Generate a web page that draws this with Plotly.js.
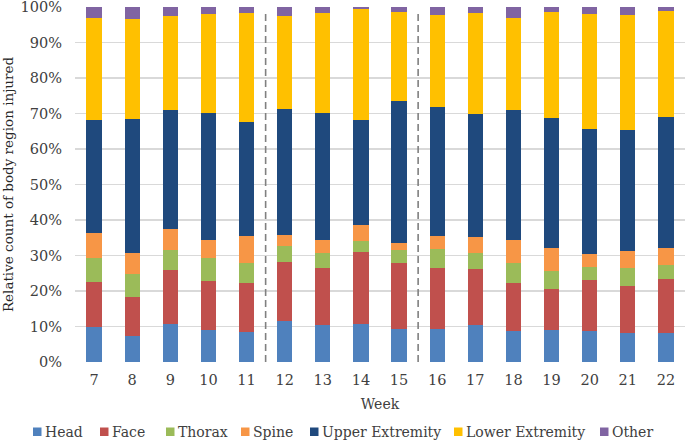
<!DOCTYPE html>
<html><head><meta charset="utf-8">
<script src="https://cdn.plot.ly/plotly-3.0.1.min.js"></script>
<style>html,body{margin:0;padding:0;background:#fff}#chart{width:685px;height:440px}</style>
</head><body><div id="chart"></div>
<script>
const weeks = [7,8,9,10,11,12,13,14,15,16,17,18,19,20,21,22];
const head   = [10.0, 7.4,10.7, 8.9, 8.4,11.5,10.5,10.8, 9.4, 9.4,10.5, 8.6, 8.9, 8.6, 8.3, 8.3];
const face   = [12.4,11.0,15.1,14.0,13.8,16.6,15.9,20.2,18.4,17.2,15.7,13.6,11.8,14.6,13.1,15.0];
const thorax = [ 6.8, 6.3, 5.7, 6.3, 5.7, 4.5, 4.3, 3.1, 3.8, 5.2, 4.5, 5.7, 4.8, 3.6, 5.1, 3.9];
const spine  = [ 7.2, 6.0, 6.1, 5.1, 7.7, 3.3, 3.6, 4.6, 2.0, 3.6, 4.4, 6.6, 6.6, 3.7, 4.8, 4.9];
const upper  = [31.9,37.8,33.3,35.9,32.0,35.4,35.9,29.4,39.9,36.3,34.7,36.6,36.6,35.2,34.0,36.8];
const lower  = [28.5,28.0,26.5,27.8,30.7,26.1,28.1,31.3,25.0,26.0,28.6,25.9,29.8,32.3,32.5,30.0];
const other  = [ 3.2, 3.5, 2.6, 2.0, 1.7, 2.6, 1.7, 0.6, 1.5, 2.3, 1.6, 3.0, 1.5, 2.0, 2.2, 1.1];
const seriesNames = ['Head','Face','Thorax','Spine','Upper Extremity','Lower Extremity','Other'];
const seriesData = [head, face, thorax, spine, upper, lower, other];
const colors = ['#4F81BD','#C0504D','#9BBB59','#F79646','#1F497D','#FFC000','#8064A2'];
const yTicks = [0,10,20,30,40,50,60,70,80,90,100];
const yTickText = yTicks.map(v => v + '%');
const phaseBreaks = [11.5, 15.5];

const FONT = 'DejaVu Serif, serif';
const TXT = '#404040';
// plot area in pixels
const PL = 75, PR = 685, PT = 7, PB = 362;
const px2x = p => (p - PL) / (PR - PL);
const px2y = p => (PB - p) / (PB - PT);

const traces = seriesNames.map((n, i) => ({
  type: 'bar', name: n, x: weeks, y: seriesData[i],
  marker: {color: colors[i], line: {width: 0}},
  width: 0.4, showlegend: false
}));

const shapes = phaseBreaks.map(b => ({
  type: 'line', xref: 'x', yref: 'paper', x0: b, x1: b, y0: 0, y1: px2y(11),
  line: {color: '#808080', width: 1.6, dash: '7px,4px'}
}));

// custom legend (Excel style: small square followed closely by label)
const legendSquareLeft = [33, 100, 166, 241, 310, 454, 600];
const annotations = [];
seriesNames.forEach((n, i) => {
  const x0 = legendSquareLeft[i];
  shapes.push({type: 'rect', xref: 'paper', yref: 'paper',
    x0: px2x(x0), x1: px2x(x0 + 8.5), y0: px2y(436), y1: px2y(427.5),
    fillcolor: colors[i], line: {width: 0}});
  annotations.push({xref: 'paper', yref: 'paper', x: px2x(x0 + 11), y: px2y(431.5),
    xanchor: 'left', yanchor: 'middle', showarrow: false, text: n,
    font: {family: FONT, size: 14, color: TXT}, borderpad: 0});
});

const layout = {
  width: 685, height: 440,
  margin: {l: PL, r: 685 - PR, t: PT, b: 440 - PB},
  barmode: 'stack',
  paper_bgcolor: '#fff', plot_bgcolor: '#fff',
  font: {family: FONT, size: 14, color: TXT},
  showlegend: false,
  xaxis: {range: [6.5, 22.5], tickvals: weeks, ticktext: weeks.map(String), showgrid: false, zeroline: false,
          showline: false, ticks: '', ticklabelstandoff: 7, tickfont: {size: 14.5, color: TXT},
          title: {text: 'Week', font: {size: 14, color: TXT}, standoff: 12}},
  yaxis: {range: [0, 100], tickvals: yTicks, ticktext: yTickText, showgrid: true, gridcolor: '#d9d9d9', gridwidth: 1.5,
          zeroline: false, showline: false, ticks: '', ticklabelstandoff: 12, ticklabeloverflow: 'allow',
          tickfont: {size: 14.5, color: TXT},
          title: {text: 'Relative count of body region injured', font: {size: 13.5, color: '#262626'}, standoff: 4}},
  shapes: shapes,
  annotations: annotations
};
Plotly.newPlot('chart', traces, layout, {staticPlot: true, displayModeBar: false});
</script></body></html>
